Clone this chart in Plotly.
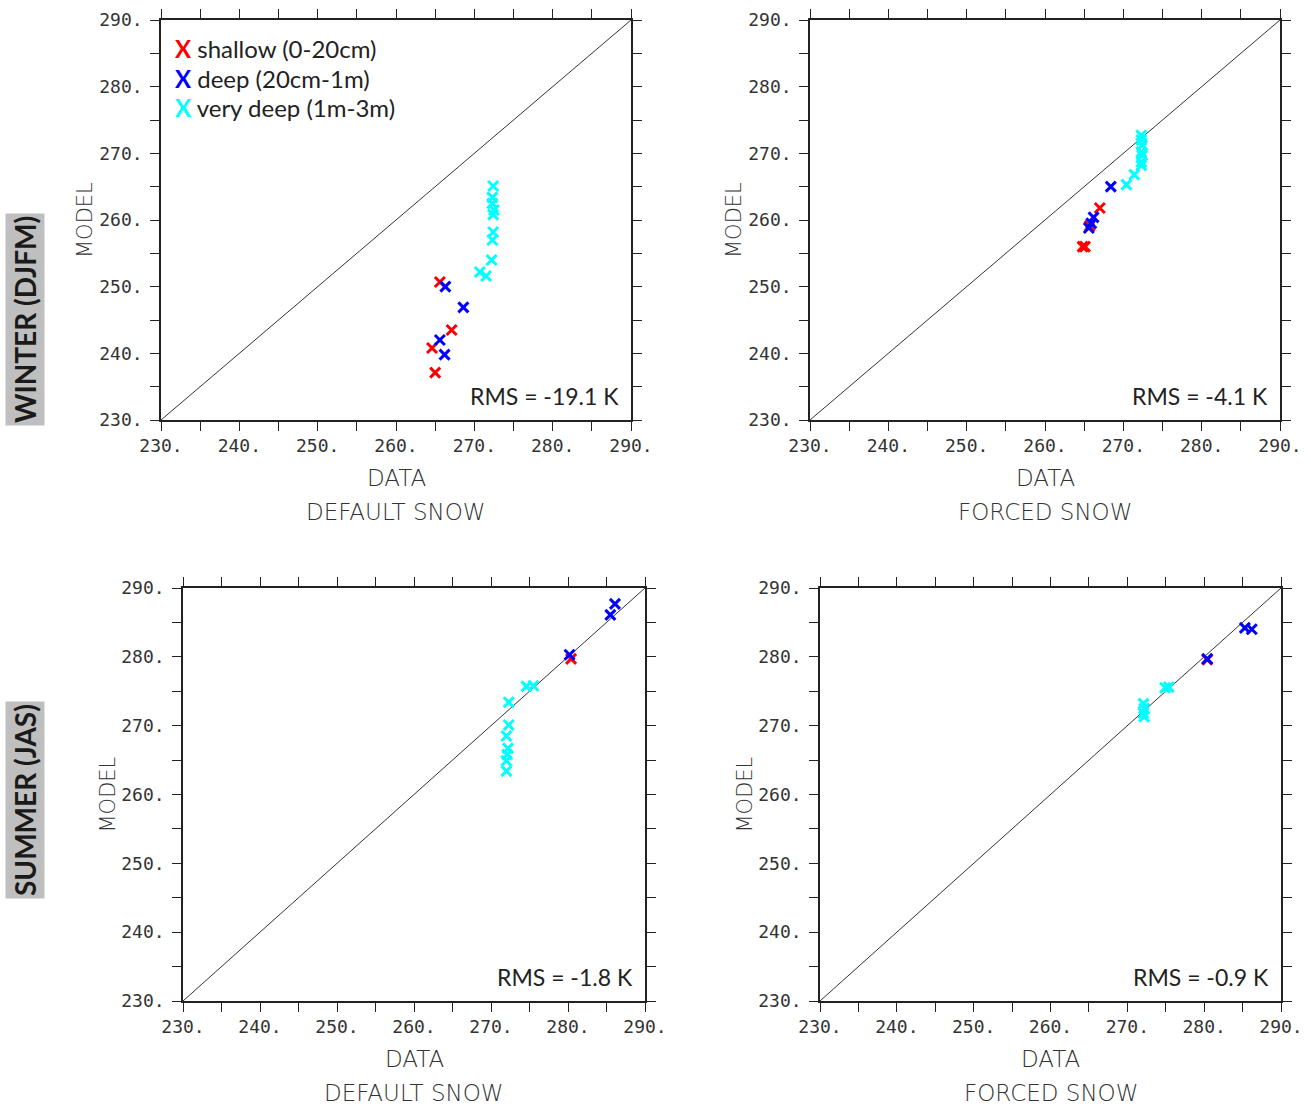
import plotly.graph_objects as go

W, H = 1311, 1113

# ---------------- data ----------------
TICK_VALUES = [230, 235, 240, 245, 250, 255, 260, 265, 270, 275, 280, 285, 290]
TICK_LABELS = ["230.", "", "240.", "", "250.", "", "260.", "", "270.", "", "280.", "", "290."]
DIAG = [230, 290]

SERIES_NAMES = ["shallow (0-20cm)", "deep (20cm-1m)", "very deep (1m-3m)"]
SERIES_COLORS = ["#ff0000", "#0000ff", "#00ffff"]

# Winter, default snow
w_def_shallow_x = [265.6, 267.1, 264.6, 265.0]
w_def_shallow_y = [250.7, 243.5, 240.8, 237.1]
w_def_deep_x = [266.3, 268.6, 265.6, 266.2]
w_def_deep_y = [250.0, 246.9, 242.0, 239.8]
w_def_vdeep_x = [272.4, 272.3, 272.3, 272.5, 272.4, 272.4, 272.3, 272.2, 270.7, 271.5]
w_def_vdeep_y = [265.1, 263.4, 262.5, 261.5, 260.8, 258.2, 257.0, 254.0, 252.2, 251.6]

# Winter, forced snow
w_frc_shallow_x = [267.0, 265.7, 264.8, 265.1]
w_frc_shallow_y = [261.8, 259.1, 256.0, 256.0]
w_frc_deep_x = [268.4, 266.2, 265.9, 265.6]
w_frc_deep_y = [265.0, 260.4, 259.5, 258.8]
w_frc_vdeep_x = [272.3, 272.3, 272.4, 272.3, 272.4, 272.3, 272.3, 271.4, 270.4]
w_frc_vdeep_y = [272.7, 272.0, 271.2, 270.2, 269.7, 268.7, 268.2, 266.8, 265.3]

# Summer, default snow
s_def_shallow_x = [280.4]
s_def_shallow_y = [279.7]
s_def_deep_x = [286.1, 285.5, 280.2]
s_def_deep_y = [287.7, 286.1, 280.3]
s_def_vdeep_x = [274.6, 275.5, 272.3, 272.3, 272.0, 272.2, 272.1, 272.0, 272.0]
s_def_vdeep_y = [275.7, 275.8, 273.4, 270.1, 268.5, 266.7, 265.8, 264.9, 263.4]

# Summer, forced snow
s_frc_shallow_x = [280.4]
s_frc_shallow_y = [279.6]
s_frc_deep_x = [285.3, 286.2, 280.4]
s_frc_deep_y = [284.2, 284.0, 279.7]
s_frc_vdeep_x = [274.9, 275.4, 272.1, 272.2, 272.1, 272.2]
s_frc_vdeep_y = [275.5, 275.6, 273.2, 272.5, 271.8, 271.3]

RMS_TEXT = ["RMS = -19.1 K", "RMS = -4.1 K", "RMS = -1.8 K", "RMS = -0.9 K"]
EXP_TEXT = ["DEFAULT SNOW", "FORCED SNOW", "DEFAULT SNOW", "FORCED SNOW"]
ROW_TEXT = ["WINTER (DJFM)", "SUMMER (JAS)"]

panels = [
    [(w_def_shallow_x, w_def_shallow_y), (w_def_deep_x, w_def_deep_y), (w_def_vdeep_x, w_def_vdeep_y)],
    [(w_frc_shallow_x, w_frc_shallow_y), (w_frc_deep_x, w_frc_deep_y), (w_frc_vdeep_x, w_frc_vdeep_y)],
    [(s_def_shallow_x, s_def_shallow_y), (s_def_deep_x, s_def_deep_y), (s_def_vdeep_x, s_def_vdeep_y)],
    [(s_frc_shallow_x, s_frc_shallow_y), (s_frc_deep_x, s_frc_deep_y), (s_frc_vdeep_x, s_frc_vdeep_y)],
]

# ---------------- layout (pixel boxes of plot areas) ----------------
boxes = [  # left, right, top, bottom in pixels
    (161, 631, 20, 420),
    (810, 1280, 20, 420),
    (183, 645, 588, 1001),
    (820, 1281, 588, 1001),
]

def px(x):
    return x / W

def py(y):
    return 1 - y / H

TICK_FONT = dict(family="DejaVu Sans Mono", size=18, color="#333333", weight=200)
LABEL_FONT = dict(family="DejaVu Sans", size=23, color="#333333", weight=200)
MODEL_FONT = dict(family="DejaVu Sans", size=21, color="#333333", weight=200)
CAL_FONT = dict(family="Lato", size=23, color="#222222")

fig = go.Figure()
layout = dict(
    width=W, height=H, margin=dict(l=0, r=0, t=0, b=0, autoexpand=False),
    paper_bgcolor="white", plot_bgcolor="white", showlegend=False,
)
annotations = []

for i, (box, data) in enumerate(zip(boxes, panels)):
    l, r, t, b = box
    n = "" if i == 0 else str(i + 1)
    xa, ya = "x" + n, "y" + n
    axis_common = dict(
        range=[230, 290], tickmode="array", tickvals=TICK_VALUES, ticktext=TICK_LABELS,
        ticks="outside", ticklen=9, tickwidth=1.3, tickcolor="#222",
        showline=True, linecolor="#222", linewidth=1.5, mirror="ticks",
        showgrid=False, zeroline=False, tickfont=TICK_FONT, fixedrange=True,
        automargin=False,
    )
    layout["xaxis" + n] = dict(axis_common, domain=[px(l), px(r)], anchor=ya)
    layout["yaxis" + n] = dict(axis_common, domain=[py(b), py(t)], anchor=xa, ticklabelstandoff=4)

    fig.add_trace(go.Scatter(x=DIAG, y=DIAG, mode="lines", line=dict(color="#333", width=1),
                             xaxis=xa, yaxis=ya, hoverinfo="skip"))
    for (sx, sy), name, col in zip(data, SERIES_NAMES, SERIES_COLORS):
        fig.add_trace(go.Scatter(x=sx, y=sy, mode="markers", name=name,
                                 marker=dict(symbol="x-thin", size=10, color=col,
                                             line=dict(width=3, color=col)),
                                 xaxis=xa, yaxis=ya))

    cx = (l + r) / 2
    annotations.append(dict(text="DATA", x=px(cx), y=py(b + 58), xref="paper", yref="paper",
                            showarrow=False, font=LABEL_FONT, xanchor="center", yanchor="middle"))
    annotations.append(dict(text=EXP_TEXT[i], x=px(cx), y=py(b + 92), xref="paper", yref="paper",
                            showarrow=False, font=LABEL_FONT, xanchor="center", yanchor="middle"))
    cy = (t + b) / 2
    annotations.append(dict(text="MODEL", x=px(l - 76), y=py(cy), xref="paper", yref="paper",
                            showarrow=False, font=MODEL_FONT, textangle=-90,
                            xanchor="center", yanchor="middle"))
    annotations.append(dict(text=RMS_TEXT[i], x=px(r - 10), y=py(b - 24), xref="paper", yref="paper",
                            showarrow=False, font=CAL_FONT, xanchor="right", yanchor="middle"))

# legend (as text in the first panel)
for k, (name, col) in enumerate(zip(SERIES_NAMES, SERIES_COLORS)):
    annotations.append(dict(
        text=f"<b><span style='color:{col}'>X</span></b> {name}",
        x=px(173), y=py(49 + 29 * k), xref="paper", yref="paper", showarrow=False,
        font=dict(family="Lato", size=24, color="#222222"), xanchor="left", yanchor="middle"))

# row labels
for txt, cy in zip(ROW_TEXT, [320, 800]):
    annotations.append(dict(text=f"<b>{txt}</b>", x=px(25), y=py(cy), xref="paper", yref="paper",
                            showarrow=False, textangle=-90, bgcolor="#bfbfbf", borderpad=2,
                            font=dict(family="Lato", size=28, color="#1a1a1a"),
                            xanchor="center", yanchor="middle"))

layout["annotations"] = annotations
fig.update_layout(**layout)
fig.write_html("out.html", config={"displayModeBar": False},
               post_script="document.body.style.margin='0';")
